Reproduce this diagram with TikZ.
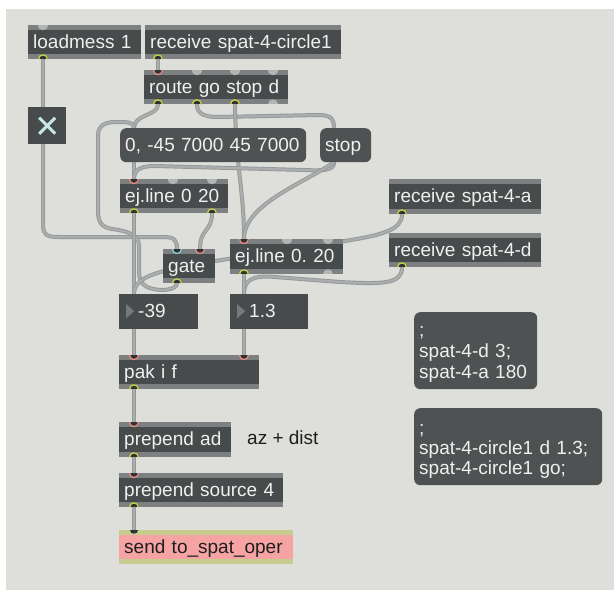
\documentclass[tikz,border=0pt]{standalone}
\usepackage{fontspec}
\setmainfont{Liberation Sans}
\frenchspacing
\definecolor{bgc}{HTML}{DEDFDA}
\definecolor{objfill}{HTML}{474B4C}
\definecolor{msgfill}{HTML}{4E5253}
\definecolor{band}{HTML}{7D8081}
\definecolor{objtext}{HTML}{F0F0F0}
\definecolor{cabled}{HTML}{959898}
\definecolor{cablel}{HTML}{ABAEAE}
\definecolor{hotring}{HTML}{E98B84}
\definecolor{outring}{HTML}{C9D14A}
\definecolor{coldring}{HTML}{8CCFDD}
\definecolor{portoff}{HTML}{B3B5B5}
\definecolor{portdark}{HTML}{2F3232}
\definecolor{sendfill}{HTML}{F5A3A3}
\definecolor{sendband}{HTML}{C8CB8F}
\definecolor{numtri}{HTML}{76797A}
\definecolor{xcol}{HTML}{C8E6E6}
\definecolor{cmttext}{HTML}{1E1E1E}
\pgfdeclarelayer{cables}
\pgfsetlayers{cables,main}
\tikzset{
  base/.style={anchor=north west, inner ysep=0pt, inner xsep=5pt, align=left,
    font=\fontsize{19}{21}\selectfont\frenchspacing, text=objtext, text height=23.5pt, text depth=10.5pt},
  bands/.style={path picture={
    \fill[#1] (path picture bounding box.north west) rectangle ([yshift=-5pt]path picture bounding box.north east);
    \fill[#1] ([yshift=5pt]path picture bounding box.south west) rectangle (path picture bounding box.south east);}},
  obj/.style={base, fill=objfill, text width=#1, bands=band},
  msg/.style={base, fill=msgfill, rounded corners=6pt, text width=#1},
  num/.style={base, fill=objfill, inner xsep=19pt, text width=#1,
    path picture={\fill[numtri] ([shift={(7pt,-10pt)}]path picture bounding box.north west)
      -- ([shift={(15pt,-17pt)}]path picture bounding box.north west)
      -- ([shift={(7pt,-24pt)}]path picture bounding box.north west) -- cycle;}},
  sendbox/.style={base, fill=sendfill, text=cmttext, text width=#1, bands=sendband},
  togbox/.style={anchor=north west, inner sep=0pt, fill=objfill, minimum width=38pt, minimum height=37pt,
    path picture={\draw[xcol, line width=3pt]
      ([shift={(-8pt,8pt)}]path picture bounding box.center) -- ([shift={(8pt,-8pt)}]path picture bounding box.center)
      ([shift={(-8pt,-8pt)}]path picture bounding box.center) -- ([shift={(8pt,8pt)}]path picture bounding box.center);}},
  cmt/.style={anchor=base west, inner sep=0pt, font=\fontsize{19}{21}\selectfont, text=cmttext},
  cable/.style={draw=cabled, line width=4pt, line cap=round, postaction={draw=cablel, line width=2.2pt}},
  inhot/.pic={\draw[fill=portdark, draw=hotring, line width=1.3pt] (-4.5,0) .. controls (-4.5,6) and (4.5,6) .. (4.5,0);},
  incold/.pic={\draw[fill=portdark, draw=coldring, line width=1.3pt] (-4.5,0) .. controls (-4.5,6) and (4.5,6) .. (4.5,0);},
  insend/.pic={\fill[portdark] (-4,0) .. controls (-4,5) and (4,5) .. (4,0) -- cycle;},
  inoff/.pic={\fill[portoff] (-5,0) .. controls (-5,6.7) and (5,6.7) .. (5,0) -- cycle;},
  outon/.pic={\draw[fill=portdark, draw=outring, line width=1.3pt] (-4.5,0) .. controls (-4.5,-6) and (4.5,-6) .. (4.5,0);},
  outoff/.pic={\fill[portoff] (-5,0) .. controls (-5,-6.7) and (5,-6.7) .. (5,0) -- cycle;},
}
\begin{document}
\begin{tikzpicture}[x=1pt,y=-1pt]
\useasboundingbox (0,0) rectangle (614,590);
\begin{pgfonlayer}{cables}
\fill[white] (0,0) rectangle (614,590);
\fill[bgc] (6,9) rectangle (614,590);
\end{pgfonlayer}

% boxes
\node[obj=103pt] (lm) at (28,25) {loadmess 1};
\node[obj=186pt] (rc) at (145,25) {receive spat-4-circle1};
\node[obj=134pt] (rt) at (144,70) {route go stop d};
\node[togbox] (tog) at (28,107) {};
\node[msg=176pt] (m1) at (120,128) {0, -45 7000 45 7000};
\node[msg=41pt] (st) at (320,128) {stop};
\node[obj=98pt] (ej1) at (120,179) {ej.line 0 20};
\node[obj=42pt] (gt) at (163,249) {gate};
\node[obj=103pt, text depth=11.5pt] (ej2) at (230,239) {ej.line 0. 20};
\node[obj=142pt, text depth=11.5pt] (ra) at (389,179) {receive spat-4-a};
\node[obj=142pt] (rd) at (389,233) {receive spat-4-d};
\node[num=41pt, text depth=11.5pt] (n1) at (119,294) {-39};
\node[num=40pt, text depth=11.5pt] (n2) at (230,294) {1.3};
\node[obj=130pt] (pak) at (119,355) {pak i f};
\node[obj=102pt, text depth=11.5pt] (pa) at (119,422) {prepend ad};
\node[cmt] (cm) at (247,444) {az + dist};
\node[obj=154pt] (ps) at (119,473) {prepend source 4};
\node[sendbox=164pt] (sd) at (119,530) {send to\_spat\_oper};
\node[msg=113pt, text height=24pt, text depth=53pt] (m3) at (414,312) {;\\spat-4-d 3;\\spat-4-a 180};
\node[msg=178pt, text height=26pt, text depth=51pt, font=\fontsize{19}{20}\selectfont\frenchspacing] (m4) at (414,408) {;\\spat-4-circle1 d 1.3;\\spat-4-circle1 go;};

% ports
\coordinate (lm-i0) at ([xshift=15pt]lm.north west);
\coordinate (lm-o0) at ([xshift=15pt]lm.south west);
\coordinate (tog-i0) at ([xshift=15pt]tog.north west);
\coordinate (tog-o0) at ([xshift=15pt]tog.south west);
\coordinate (rc-o0) at ([xshift=13pt]rc.south west);
\coordinate (rt-i0) at ([xshift=14pt]rt.north west);
\coordinate (rt-i1) at ([xshift=53pt]rt.north west);
\coordinate (rt-i2) at ([xshift=91pt]rt.north west);
\coordinate (rt-i3) at ([xshift=129pt]rt.north west);
\coordinate (rt-o0) at ([xshift=14pt]rt.south west);
\coordinate (rt-o1) at ([xshift=53pt]rt.south west);
\coordinate (rt-o2) at ([xshift=91pt]rt.south west);
\coordinate (rt-o3) at ([xshift=129pt]rt.south west);
\coordinate (m1-i0) at ([xshift=14pt]m1.north west);
\coordinate (m1-o0) at ([xshift=14pt]m1.south west);
\coordinate (st-i0) at ([xshift=14pt]st.north west);
\coordinate (st-o0) at ([xshift=14pt]st.south west);
\coordinate (ej1-i0) at ([xshift=14pt]ej1.north west);
\coordinate (ej1-i1) at ([xshift=53pt]ej1.north west);
\coordinate (ej1-i2) at ([xshift=92pt]ej1.north west);
\coordinate (ej1-o0) at ([xshift=14pt]ej1.south west);
\coordinate (ej1-o1) at ([xshift=92pt]ej1.south west);
\coordinate (gt-i0) at ([xshift=14pt]gt.north west);
\coordinate (gt-i1) at ([xshift=37pt]gt.north west);
\coordinate (gt-o0) at ([xshift=14pt]gt.south west);
\coordinate (ej2-i0) at ([xshift=14pt]ej2.north west);
\coordinate (ej2-i1) at ([xshift=57pt]ej2.north west);
\coordinate (ej2-i2) at ([xshift=98pt]ej2.north west);
\coordinate (ej2-o0) at ([xshift=14pt]ej2.south west);
\coordinate (ej2-o1) at ([xshift=98pt]ej2.south west);
\coordinate (ra-o0) at ([xshift=13pt]ra.south west);
\coordinate (rd-o0) at ([xshift=13pt]rd.south west);
\coordinate (n1-i) at ([xshift=15pt]n1.north west);
\coordinate (n1-o) at ([xshift=15pt]n1.south west);
\coordinate (n2-i) at ([xshift=14pt]n2.north west);
\coordinate (n2-o) at ([xshift=14pt]n2.south west);
\coordinate (pak-i0) at ([xshift=15pt]pak.north west);
\coordinate (pak-i1) at ([xshift=125pt]pak.north west);
\coordinate (pak-o0) at ([xshift=15pt]pak.south west);
\coordinate (pa-i0) at ([xshift=15pt]pa.north west);
\coordinate (pa-o0) at ([xshift=15pt]pa.south west);
\coordinate (ps-i0) at ([xshift=15pt]ps.north west);
\coordinate (ps-o0) at ([xshift=15pt]ps.south west);
\coordinate (sd-i0) at ([xshift=15pt]sd.north west);

% cables
\begin{pgfonlayer}{cables}
\draw[cable] (rc-o0) -- (rt-i0);
\draw[cable] (lm-o0) -- (tog-i0);
\draw[cable] (tog-o0) -- (43,224) .. controls (43,235) and (47,237) .. (58,237) -- (164,237) .. controls (174,237) and (177,240) .. (gt-i0);
\draw[cable] (rt-o0) .. controls (158,116) and (134,114) .. (m1-i0);
\draw[cable] (gt-o0) .. controls (177,292) and (150,292) .. (143,284) .. controls (139,279) and (139,275) .. (139,268) -- (139,246) .. controls (139,235) and (128,231) .. (112,229) .. controls (101,227) and (98,222) .. (98,210) -- (98,136) .. controls (98,126) and (104,122) .. (116,122) .. controls (128,122) and (134,122) .. (m1-i0);
\draw[cable] (rt-o1) .. controls (197,113) and (203,117) .. (218,117) -- (318,115) .. controls (330,115) and (334,118) .. (st-i0);
\draw[cable] (rt-o2) .. controls (236,170) and (244,190) .. (ej2-i0);
\draw[cable] (m1-o0) -- (ej1-i0);
\draw[cable] (st-o0) .. controls (334,170) and (325,171) .. (305,170) -- (155,166) .. controls (140,166) and (134,170) .. (ej1-i0);
\draw[cable] (st-o0) .. controls (300,185) and (244,205) .. (ej2-i0);
\draw[cable] (ej1-o0) -- (n1-i);
\draw[cable] (ej1-o1) .. controls (212,232) and (200,228) .. (gt-i1);
\draw[cable] (ra-o0) .. controls (402,230) and (382,235) .. (345,241) -- (215,261) .. controls (160,270) and (134,276) .. (n1-i);
\draw[cable] (rd-o0) .. controls (402,285) and (380,284) .. (340,282) -- (275,277) .. controls (252,275) and (244,280) .. (n2-i);
\draw[cable] (ej2-o0) -- (n2-i);
\draw[cable] (n1-o) -- (pak-i0);
\draw[cable] (n2-o) -- (pak-i1);
\draw[cable] (pak-o0) -- (pa-i0);
\draw[cable] (pa-o0) -- (ps-i0);
\draw[cable] (ps-o0) -- (sd-i0);
\end{pgfonlayer}

% port markers
\pic at (lm-i0) {inoff};
\pic at (lm-o0) {outon};
\pic at (rc-o0) {outon};
\pic at (rt-i0) {inhot};
\pic at (rt-i1) {inoff};
\pic at (rt-i2) {inoff};
\pic at (rt-i3) {inoff};
\pic at (rt-o0) {outon};
\pic at (rt-o1) {outon};
\pic at (rt-o2) {outon};
\pic at (rt-o3) {outoff};
\pic at (ej1-i0) {inhot};
\pic at (ej1-i1) {inoff};
\pic at (ej1-i2) {inoff};
\pic at (ej1-o0) {outon};
\pic at (ej1-o1) {outon};
\pic at (gt-i0) {incold};
\pic at (gt-i1) {inhot};
\pic at (gt-o0) {outon};
\pic at (ej2-i0) {inhot};
\pic at (ej2-i1) {inoff};
\pic at (ej2-i2) {inoff};
\pic at (ej2-o0) {outon};
\pic at (ej2-o1) {outoff};
\pic at (ra-o0) {outon};
\pic at (rd-o0) {outon};
\pic at (pak-i0) {inhot};
\pic at (pak-i1) {inhot};
\pic at (pak-o0) {outon};
\pic at (pa-i0) {inhot};
\pic at (pa-o0) {outon};
\pic at (ps-i0) {inhot};
\pic at (ps-o0) {outon};
\pic at (sd-i0) {insend};
\end{tikzpicture}
\end{document}
